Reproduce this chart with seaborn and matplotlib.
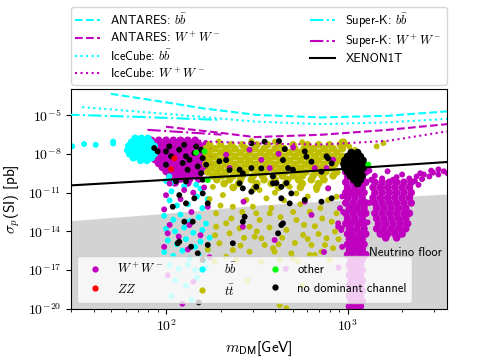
import pandas as pd
import numpy as np
import matplotlib
matplotlib.use("Agg")
import matplotlib.pyplot as plt
import seaborn as sns
from matplotlib.lines import Line2D
from matplotlib.ticker import FuncFormatter, NullFormatter, NullLocator

# All values are log10(m_DM / GeV) and log10(sigma_p / pb).

# --- limit curves ---
antares_bb_lm = [1.696, 2.018, 2.20, 2.497, 2.856, 3.223, 3.547]
antares_bb_ls = [-3.35, -4.05, -4.47, -4.98, -5.18, -5.05, -4.71]
antares_ww_lm = [2.0, 2.31, 2.488, 2.856, 3.223, 3.547]
antares_ww_ls = [-5.90, -6.39, -6.70, -6.52, -6.14, -5.70]
icecube_bb_lm = [1.539, 2.018, 2.488, 2.856, 3.223, 3.547]
icecube_bb_ls = [-4.38, -4.92, -5.50, -5.70, -5.56, -5.29]
icecube_ww_lm = [2.0, 2.25, 2.515, 2.856, 3.223, 3.547]
icecube_ww_ls = [-6.75, -7.05, -7.20, -7.28, -6.99, -6.26]
superk_bb_lm = [1.45, 1.90, 2.29]
superk_bb_ls = [-4.96, -5.16, -5.37]
superk_ww_lm = [1.898, 2.306]
superk_ww_ls = [-6.14, -6.51]
xenon_lm = [1.45, 2.488, 3.56]
xenon_ls = [-10.46, -9.62, -8.62]
floor_lm = [1.45, 2.0, 2.515, 3.271, 3.56]
floor_ls = [-13.2, -12.6, -11.96, -11.32, -11.1]

# --- scan points, dense parts as rows (log sigma, [log m ...]) ---
ww_rows = [
    (-6.95, [1.92, 1.96, 2.00, 2.04, 2.08, 2.12, 2.16]),
    (-7.25, [1.90, 1.94, 1.98, 2.02, 2.06, 2.10, 2.14, 2.18, 2.22]),
    (-7.55, [1.92, 1.96, 2.00, 2.04, 2.08, 2.12, 2.16, 2.20, 2.24]),
    (-7.85, [1.90, 1.94, 1.98, 2.02, 2.06, 2.10, 2.14, 2.18, 2.22]),
    (-8.15, [1.92, 1.96, 2.00, 2.04, 2.08, 2.12, 2.16, 2.20, 2.24]),
    (-8.45, [1.94, 1.98, 2.02, 2.06, 2.10, 2.14, 2.18, 2.22]),
    (-8.75, [1.96, 2.00, 2.04, 2.08, 2.12, 2.16, 2.20, 2.24]),
    (-9.05, [1.98, 2.02, 2.06, 2.10, 2.14, 2.18, 2.22]),
    (-9.35, [2.00, 2.04, 2.08, 2.12, 2.16, 2.20]),
    (-9.65, [2.02, 2.06, 2.10, 2.14, 2.18]),
    (-9.95, [2.04, 2.08, 2.13, 2.18]),
    (-10.25, [2.05, 2.12]),
    # first vertical band around 1 TeV
    (-9.0, [3.00, 3.04, 3.08]),
    (-9.4, [2.99, 3.03, 3.07, 3.10]),
    (-9.8, [3.00, 3.04, 3.08]),
    (-10.2, [2.99, 3.03, 3.07, 3.10]),
    (-10.6, [3.00, 3.04, 3.08]),
    (-11.0, [2.99, 3.02, 3.06, 3.09]),
    (-11.4, [3.00, 3.04, 3.08]),
    (-11.8, [2.99, 3.03, 3.07, 3.10]),
    (-12.2, [3.01, 3.05, 3.09]),
    (-12.6, [2.99, 3.03, 3.07, 3.10]),
    (-13.0, [3.00, 3.04, 3.08]),
    (-13.4, [2.99, 3.02, 3.06, 3.09]),
    (-13.8, [3.01, 3.05, 3.09]),
    (-14.2, [3.00, 3.03, 3.07, 3.10]),
    (-14.6, [3.01, 3.05, 3.08]),
    (-15.0, [3.00, 3.03, 3.06, 3.09]),
    (-15.4, [3.01, 3.05, 3.08]),
    (-15.8, [3.00, 3.03, 3.07, 3.10]),
    (-16.2, [3.02, 3.05, 3.08]),
    (-16.6, [3.01, 3.04, 3.07]),
    (-17.0, [3.02, 3.05, 3.08]),
    (-17.4, [3.01, 3.04, 3.07]),
    (-17.8, [3.02, 3.05, 3.08]),
    (-18.2, [3.01, 3.04, 3.07]),
    (-18.6, [3.02, 3.05, 3.08]),
    (-19.0, [3.01, 3.04, 3.07]),
    (-19.4, [3.02, 3.05, 3.08]),
    (-19.8, [3.01, 3.04, 3.07]),
    # second band
    (-10.2, [3.15, 3.19, 3.23, 3.27, 3.31, 3.35]),
    (-10.6, [3.14, 3.18, 3.22, 3.26, 3.30, 3.34]),
    (-11.0, [3.15, 3.19, 3.23, 3.27, 3.31, 3.35]),
    (-11.4, [3.14, 3.18, 3.22, 3.26, 3.30, 3.34]),
    (-11.8, [3.15, 3.19, 3.23, 3.27, 3.31, 3.35]),
    (-12.2, [3.16, 3.20, 3.24, 3.28, 3.32]),
    (-12.6, [3.15, 3.19, 3.23, 3.27, 3.31, 3.34]),
    (-13.0, [3.16, 3.20, 3.24, 3.28, 3.32]),
    (-13.4, [3.17, 3.21, 3.25, 3.29, 3.33]),
    (-13.8, [3.16, 3.20, 3.24, 3.28, 3.32]),
    (-14.2, [3.18, 3.22, 3.26, 3.30]),
    (-14.5, [3.21, 3.27]),
]
ww_pts = [
    # spray towards high mass
    (3.12, -9.3), (3.22, -9.35), (3.30, -9.6), (3.40, -9.5), (3.46, -9.3), (3.50, -9.2),
    (3.15, -9.7), (3.19, -9.9), (3.27, -9.8), (3.34, -9.9), (3.38, -9.75), (3.42, -9.6),
    (3.47, -9.45), (3.53, -9.35), (3.13, -10.0), (3.25, -10.0), (3.37, -10.1),
    (3.41, -9.95), (3.45, -9.75), (3.50, -9.6), (3.55, -9.5), (3.39, -10.4),
    (3.12, -11.8), (3.11, -13.3), (2.97, -11.3), (2.975, -12.5), (2.965, -13.9), (2.97, -15.2),
    # scattered
    (2.02, -10.3), (2.10, -10.8), (2.00, -11.2), (2.08, -11.5), (2.15, -11.0),
    (2.21, -10.6), (1.99, -12.3), (2.14, -12.5), (2.23, -12.1), (2.02, -13.5),
    (2.07, -14.4), (2.19, -14.3), (1.99, -15.2), (2.12, -15.4), (2.24, -16.0),
    (2.01, -17.4), (2.15, -17.9), (2.09, -19.6), (2.009, -14.15), (2.129, -13.51),
    (2.331, -8.07), (2.35, -9.1), (2.46, -7.68), (2.525, -8.46), (2.571, -9.1),
    (2.819, -9.1), (2.884, -9.1), (2.92, -8.46), (2.70, -7.5), (2.62, -8.0),
    (2.427, -11.7), (2.764, -11.7), (2.801, -12.73), (2.948, -13.38), (2.967, -13.76),
    (2.598, -14.67), (2.423, -13.64), (2.893, -10.67), (2.948, -13.64), (2.958, -12.2),
    (2.87, -15.6), (2.95, -16.8), (2.66, -16.9), (3.03, -9.49),
]

bb_rows = [
    (-6.8, [1.83, 1.865, 1.90]),
    (-7.1, [1.81, 1.845, 1.88, 1.915]),
    (-7.4, [1.795, 1.83, 1.865, 1.90, 1.935]),
    (-7.7, [1.79, 1.825, 1.86, 1.895, 1.93]),
    (-8.0, [1.80, 1.835, 1.87, 1.905, 1.935]),
    (-8.3, [1.82, 1.855, 1.89, 1.92]),
    (-8.5, [1.86, 1.895]),
]
bb_pts = [
    (1.484, -7.42), (1.549, -7.24), (1.613, -7.30), (1.709, -7.05), (1.709, -7.20),
    (2.00, -10.1), (2.03, -10.9), (2.10, -10.5), (2.19, -10.7), (2.17, -11.3),
    (2.02, -11.6), (2.06, -12.0), (2.12, -11.9), (2.20, -12.2), (2.23, -11.5),
    (1.99, -12.8), (2.04, -13.1), (2.08, -12.7), (2.13, -13.2), (2.18, -12.9), (2.22, -13.4),
    (2.00, -13.8), (2.05, -14.0), (2.10, -13.7), (2.15, -14.1), (2.20, -13.9), (2.24, -14.5),
    (2.01, -14.7), (2.06, -15.0), (2.11, -14.6), (2.16, -15.2), (2.19, -14.8), (2.23, -15.4),
    (1.99, -15.6), (2.04, -15.9), (2.09, -15.5), (2.13, -16.1), (2.18, -15.8), (2.21, -16.3),
    (2.02, -16.6), (2.07, -16.9), (2.12, -16.6), (2.16, -17.0), (2.22, -16.8),
    (2.05, -17.8), (2.11, -18.2), (2.17, -17.6), (2.03, -19.0), (2.14, -19.3),
    (2.018, -9.74), (2.028, -10.26), (2.166, -10.39),
]

tt_rows = [
    (-7.3, [2.24, 2.30, 2.36, 2.42, 2.50, 2.56, 2.62, 2.70, 2.78, 2.84, 2.90, 2.96]),
    (-7.6, [2.22, 2.27, 2.33, 2.38, 2.44, 2.49, 2.54, 2.60, 2.65, 2.71, 2.76, 2.81, 2.87, 2.92, 2.97]),
    (-7.9, [2.24, 2.30, 2.35, 2.41, 2.46, 2.52, 2.57, 2.62, 2.68, 2.73, 2.79, 2.84, 2.89, 2.94]),
    (-8.2, [2.22, 2.27, 2.33, 2.38, 2.44, 2.49, 2.55, 2.60, 2.65, 2.71, 2.76, 2.82, 2.87, 2.92, 2.97]),
    (-8.5, [2.24, 2.30, 2.35, 2.41, 2.46, 2.52, 2.57, 2.63, 2.68, 2.74, 2.79, 2.84, 2.90, 2.95]),
    (-8.8, [2.22, 2.27, 2.33, 2.38, 2.44, 2.49, 2.55, 2.60, 2.66, 2.71, 2.77, 2.82, 2.87, 2.93]),
    (-9.1, [2.25, 2.30, 2.36, 2.41, 2.47, 2.52, 2.58, 2.63, 2.69, 2.74, 2.80, 2.85, 2.91]),
    (-9.4, [2.23, 2.28, 2.33, 2.39, 2.44, 2.50, 2.55, 2.61, 2.66, 2.72, 2.77, 2.83, 2.88, 2.94]),
    (-9.7, [2.26, 2.31, 2.37, 2.42, 2.48, 2.53, 2.59, 2.64, 2.70, 2.75, 2.81, 2.86, 2.92]),
    (-10.0, [2.28, 2.35, 2.41, 2.47, 2.54, 2.60, 2.67, 2.73, 2.80, 2.87]),
    (-10.3, [2.32, 2.40, 2.50, 2.58, 2.66, 2.75, 2.84]),
    (-10.6, [2.37, 2.49, 2.62, 2.74, 2.83]),
]
tt_pts = [
    (2.29, -7.05), (2.47, -7.0), (2.60, -7.05), (2.75, -7.1), (2.979, -7.03),
    (3.16, -7.42), (3.197, -7.17), (2.967, -7.06), (3.01, -7.45), (3.04, -7.7), (2.99, -7.25),
    (2.258, -10.55), (2.313, -11.19), (2.368, -12.09), (2.276, -12.6), (2.331, -13.38),
    (2.442, -11.57), (2.497, -12.6), (2.405, -13.76), (2.478, -10.8), (2.515, -10.8),
    (2.681, -10.55), (2.718, -11.06), (2.829, -10.8), (2.893, -10.67), (2.939, -11.32),
    (2.553, -11.44), (2.478, -12.09), (2.515, -13.12), (2.571, -12.6), (2.488, -14.41),
    (2.543, -15.05), (2.598, -15.57), (2.663, -13.89), (2.718, -13.12), (2.755, -14.28),
    (2.801, -15.05), (2.856, -15.57), (2.884, -14.54), (2.912, -13.25), (2.93, -14.02),
    (2.939, -12.6), (2.893, -11.57), (2.792, -12.48), (2.699, -16.08), (2.626, -16.21),
    (2.525, -16.34), (2.902, -16.21), (2.819, -15.83), (2.46, -13.64), (2.525, -14.54),
    (2.589, -15.31), (2.46, -15.57), (2.69, -15.7), (2.727, -16.34), (2.792, -15.83),
    (2.875, -15.05), (2.626, -19.7), (2.663, -19.95), (2.276, -13.64), (2.35, -14.15),
    (2.294, -14.92), (2.368, -15.44), (2.331, -15.96), (2.387, -16.21), (2.267, -16.34),
    (2.60, -11.0), (2.65, -11.6), (2.74, -11.9), (2.78, -11.3), (2.85, -12.2), (2.58, -12.2),
    (2.63, -12.9), (2.70, -12.5), (2.82, -13.6), (2.86, -13.0), (2.76, -13.5), (2.57, -13.7),
    (2.64, -14.5), (2.71, -14.9), (2.78, -14.6), (2.84, -14.2), (2.92, -15.3), (2.95, -14.6),
    (2.62, -15.0), (2.50, -14.0), (2.43, -14.5), (2.41, -15.1), (2.36, -13.0), (2.42, -12.5),
    (2.30, -12.0), (2.24, -11.5), (2.27, -14.3), (2.23, -15.4), (2.45, -17.8), (2.75, -18.2),
]

none_rows = [
    (-7.9, [3.02, 3.055]),
    (-8.2, [3.00, 3.035, 3.07]),
    (-8.5, [2.985, 3.02, 3.055, 3.085]),
    (-8.8, [2.98, 3.015, 3.05, 3.085]),
    (-9.1, [2.985, 3.02, 3.055, 3.085]),
    (-9.4, [3.00, 3.035, 3.07]),
    (-9.7, [3.015, 3.05, 3.08]),
    (-10.0, [3.035, 3.07]),
    (-10.3, [3.055]),
]
none_pts = [
    (1.935, -7.55), (1.954, -7.81), (2.0, -7.81), (2.018, -7.42), (2.073, -7.68),
    (2.10, -7.30), (2.11, -8.19), (2.092, -8.71), (2.129, -8.46), (2.156, -7.94),
    (2.166, -7.42), (2.193, -7.68), (2.202, -8.33), (2.221, -8.84), (2.175, -8.97),
    (2.193, -9.49), (2.119, -9.23), (2.0, -8.84), (2.028, -8.19), (2.055, -10.13),
    (2.11, -10.13), (2.202, -10.0),
    (2.47, -7.19), (2.543, -7.06), (2.622, -7.01), (2.654, -7.63), (2.644, -8.48),
    (2.672, -9.1), (2.525, -9.12), (2.589, -9.74), (2.764, -7.81), (2.773, -8.22),
    (2.801, -8.61), (2.699, -9.23), (2.856, -9.38), (2.893, -8.35), (2.912, -8.74),
    (2.884, -8.19), (2.663, -10.26), (2.608, -10.26), (2.331, -8.48), (2.35, -9.25),
    (2.294, -8.58), (2.47, -9.1), (2.405, -9.23), (2.423, -9.51), (2.423, -10.67),
    (2.635, -10.55), (2.69, -11.06), (2.635, -11.44), (2.681, -11.83), (2.912, -11.44),
    (2.037, -12.09), (2.101, -13.25), (2.073, -14.8), (2.138, -15.19), (2.202, -16.21),
    (2.23, -11.83), (2.202, -11.06), (2.11, -11.83), (2.073, -11.19), (2.156, -11.44),
    (2.368, -14.92), (2.433, -12.87), (2.405, -10.28), (2.47, -10.93), (2.147, -13.25),
    (2.175, -15.7), (2.23, -15.05), (2.064, -14.92), (2.497, -10.55), (2.589, -10.28),
    (2.764, -11.57), (2.856, -11.7), (2.635, -13.51), (2.617, -14.15), (2.423, -13.25),
    (2.644, -13.38), (2.18, -19.5),
]
zz_pts = [(2.046, -8.35), (2.028, -9.18)]
other_pts = [(2.166, -7.9), (2.212, -7.81), (2.23, -10.03), (3.114, -8.84)]

channel_colors = {"WW": "m", "ZZ": "red", "bb": "cyan", "tt": "y",
                  "other": "lime", "none": "k"}
channel_labels = {"WW": r"$W^+W^-$", "ZZ": r"$ZZ$", "bb": r"$b\bar{b}$",
                  "tt": r"$t\bar{t}$", "other": "other", "none": "no dominant channel"}


def rows_to_pts(rows):
    pts = []
    for ls, lms in rows:
        pts += [(lm, ls) for lm in lms]
    return pts


# draw order: magenta bulk, cyan, olive, black, then the rest on top
parts = [("WW", "dense", rows_to_pts(ww_rows)), ("bb", "dense", rows_to_pts(bb_rows)),
         ("bb", "single", bb_pts), ("tt", "dense", rows_to_pts(tt_rows)),
         ("tt", "single", tt_pts), ("WW", "single", ww_pts),
         ("none", "dense", rows_to_pts(none_rows)), ("none", "single", none_pts),
         ("ZZ", "single", zz_pts), ("other", "single", other_pts)]
frames = []
for ch, kind, pts in parts:
    arr = np.array(pts)
    frames.append(pd.DataFrame({"m": 10 ** arr[:, 0], "sigma": 10 ** arr[:, 1],
                                "channel": ch, "kind": kind}))
df = pd.concat(frames, ignore_index=True)

plt.rcParams["font.family"] = ["cmss10", "DejaVu Sans"]
plt.rcParams["mathtext.fontset"] = "cm"
plt.rcParams["axes.formatter.use_mathtext"] = True
plt.rcParams["axes.unicode_minus"] = False

fig = plt.figure(figsize=(4.8, 3.6), dpi=100)
ax = fig.add_axes([0.148, 0.142, 0.783, 0.61])

# neutrino floor
ax.fill_between(10 ** np.array(floor_lm), 1e-21, 10 ** np.array(floor_ls),
                color="lightgray", lw=0, zorder=0)

sns.scatterplot(data=df, x="m", y="sigma", hue="channel", palette=channel_colors,
                size="kind", sizes={"dense": 30, "single": 18},
                linewidth=0, legend=False, ax=ax, zorder=2)

curves = [
    (antares_bb_lm, antares_bb_ls, "cyan", "--", r"ANTARES: $b\bar{b}$"),
    (antares_ww_lm, antares_ww_ls, "m", "--", r"ANTARES: $W^+W^-$"),
    (icecube_bb_lm, icecube_bb_ls, "cyan", ":", r"IceCube: $b\bar{b}$"),
    (icecube_ww_lm, icecube_ww_ls, "m", ":", r"IceCube: $W^+W^-$"),
    (superk_bb_lm, superk_bb_ls, "cyan", "-.", r"Super-K: $b\bar{b}$"),
    (superk_ww_lm, superk_ww_ls, "m", "-.", r"Super-K: $W^+W^-$"),
    (xenon_lm, xenon_ls, "k", "-", "XENON1T"),
]
line_handles = []
for lm, ls, c, sty, lab in curves:
    h, = ax.plot(10 ** np.array(lm), 10 ** np.array(ls), color=c, ls=sty, lw=1.5,
                 label=lab, zorder=3)
    line_handles.append(h)

ax.text(10 ** 3.118, 10 ** -15.67, "Neutrino floor", fontsize=9, va="center", ha="left")

ax.set_xscale("log")
ax.set_yscale("log")
ax.set_xlim(30, 3520)
ax.set_ylim(1e-20, 1e-3)
ax.set_yticks([1e-20, 1e-17, 1e-14, 1e-11, 1e-8, 1e-5])
ax.yaxis.set_minor_locator(NullLocator())
sci = FuncFormatter(lambda v, p: r"$10^{%d}$" % round(np.log10(v)))
ax.xaxis.set_major_formatter(sci)
ax.yaxis.set_major_formatter(sci)
ax.xaxis.set_minor_formatter(NullFormatter())
ax.tick_params(labelsize=10)
ax.set_xlabel(r"$m_{\mathsf{DM}}$[GeV]", fontsize=11)
ax.set_ylabel(r"$\sigma_p$(SI) [pb]", fontsize=11)

leg1 = ax.legend(handles=line_handles, ncol=2, loc="lower left", mode="expand",
                 bbox_to_anchor=(0, 1.02, 1, 0.3), borderaxespad=0, fontsize=9,
                 labelspacing=0.25, borderpad=0.35)
ax.add_artist(leg1)

order = ["WW", "ZZ", "bb", "tt", "other", "none"]
pt_handles = [Line2D([], [], ls="", marker="o", markersize=3.5, color=channel_colors[k],
                     label=channel_labels[k]) for k in order]
ax.legend(handles=pt_handles, ncol=3, loc="lower left", fontsize=9)

fig.savefig("out.png", dpi=100)
